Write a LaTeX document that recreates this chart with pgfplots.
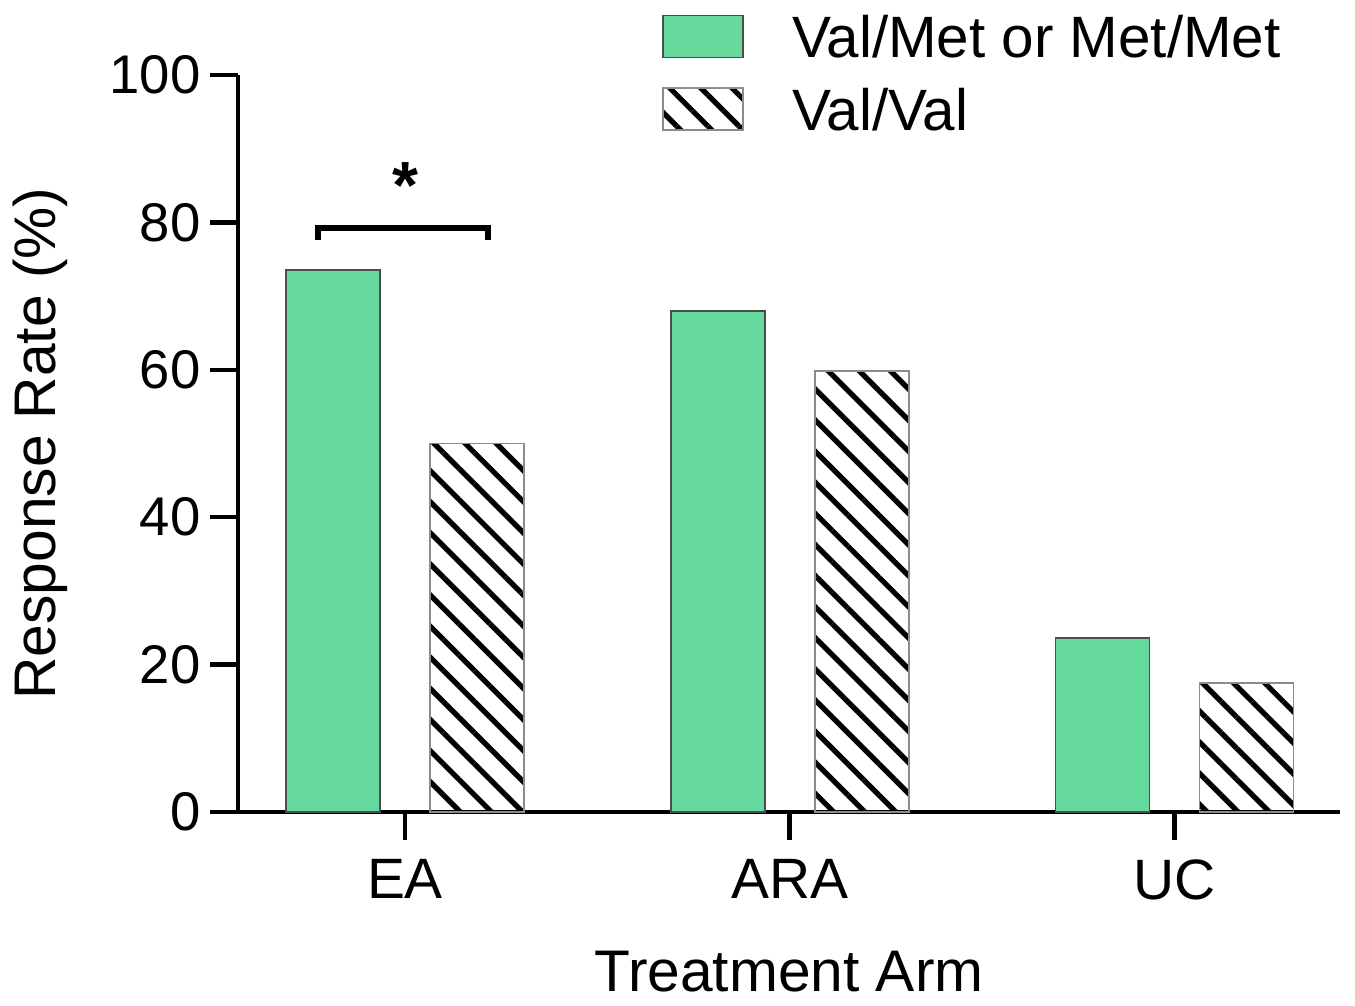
\documentclass[border=0pt]{standalone}
\usepackage{fontspec}
\setmainfont{Liberation Sans}
\usepackage{pgfplots}
\pgfplotsset{compat=1.18}
\usetikzlibrary{patterns.meta}
\definecolor{barGreen}{RGB}{102,218,158}

\pgfplotsset{
  boxlegend/.style={legend image code/.code={
    \draw[##1] (0cm,0cm) rectangle (0.8cm,0.42cm);}},
}

\begin{document}
\begin{tikzpicture}
\begin{axis}[
  scale only axis, width=11.02cm, height=7.37cm,
  ybar, bar width=0.94cm,
  xmin=-0.434, xmax=2.43, ymin=0, ymax=100,
  axis lines=left,
  axis line style={-, line width=1.3pt},
  xtick={0,1,2}, xticklabels={EA,ARA,UC},
  ytick={0,20,...,100},
  tick align=outside, major tick length=0.28cm,
  tick style={line width=1.3pt, black},
  /pgf/number format/assume math mode=true,
  yticklabel style={font=\fontsize{15.5}{18}\selectfont, xshift=0.03cm},
  xticklabel style={font=\fontsize{16.2}{19}\selectfont, yshift=-0.07cm},
  xlabel={Treatment Arm},
  ylabel={Response Rate (\%)},
  label style={font=\fontsize{16.7}{20}\selectfont},
  xlabel style={at={(axis description cs:0.5,-0.217)}, anchor=center},
  ylabel style={at={(axis description cs:-0.1797,0.5)}, anchor=center},
  legend style={at={(rel axis cs:0.3748,1.0923)}, anchor=north west,
    draw=none, fill=none, row sep=0.29cm,
    font=\fontsize{16.6}{20}\selectfont,
    nodes={inner sep=0pt, text height=0.42cm, text depth=0cm, anchor=base west},
    /tikz/every odd column/.append style={column sep=0.48cm}},
  legend cell align=left,
  clip=false,
]
\addplot[bar shift=-0.72cm, fill=barGreen, draw=black!70, line width=0.5pt, boxlegend]
  coordinates {(0,73.5) (1,68.0) (2,23.6)};
\addplot[bar shift=0.72cm, draw=black!45, line width=0.5pt,
  pattern={Lines[angle=-45, distance=0.22cm, line width=1.5pt]}, pattern color=black, boxlegend]
  coordinates {(0,50.0) (1,59.8) (2,17.5)};
\legend{Val/Met or Met/Met, Val/Val}
\draw[line width=1.6pt] (axis cs:-0.226,77.6) -- (axis cs:-0.226,79.2)
  -- (axis cs:0.216,79.2) -- (axis cs:0.216,77.6);
\node[anchor=north, inner sep=0pt, font=\fontsize{19}{20}\selectfont\bfseries]
  at (axis cs:0,88.2) {*};
\end{axis}
\pgfresetboundingbox
\path[use as bounding box] (current axis.south west) ++(-2.38cm,-1.93cm) rectangle ++(13.55cm,10.05cm);
\end{tikzpicture}
\end{document}
